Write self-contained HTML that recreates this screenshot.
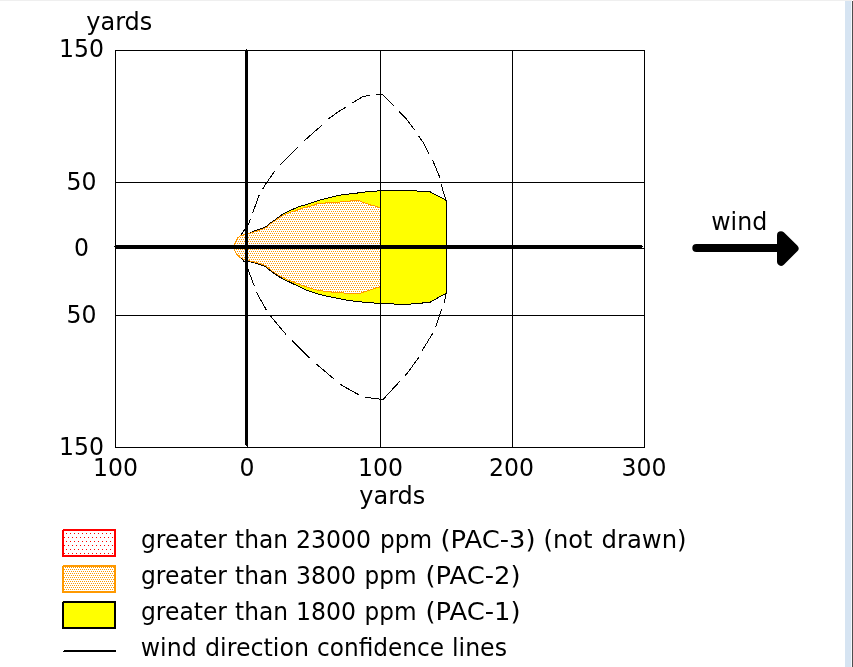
<!DOCTYPE html>
<html><head><meta charset="utf-8"><title>threat zone</title>
<style>
html,body{margin:0;padding:0;background:#fff;overflow:hidden}
svg{display:block}
text{fill:#000}
</style></head><body>
<svg width="853" height="667" viewBox="0 0 853 667">
<defs>
<pattern id="po" patternUnits="userSpaceOnUse" x="0" y="0" width="2" height="4">
<rect x="0" y="0" width="2" height="4" fill="#fff"/>
<rect x="0" y="1" width="1" height="1" fill="#ff9900"/><rect x="1" y="3" width="1" height="1" fill="#ff9900"/>
</pattern>
<pattern id="pr" patternUnits="userSpaceOnUse" x="0" y="0" width="4" height="8">
<rect x="0" y="0" width="4" height="8" fill="#fff"/>
<rect x="2" y="5" width="1" height="1" fill="#ff0000"/><rect x="0" y="1" width="1" height="1" fill="#ff0000"/>
</pattern>
</defs>
<rect x="0" y="0" width="853" height="667" fill="#fff"/>
<g shape-rendering="crispEdges">
<!-- window chrome -->
<rect x="0" y="0" width="852" height="1" fill="#efefef"/>
<rect x="845" y="1" width="6" height="666" fill="#d6e4f2"/><rect x="851" y="1" width="1" height="666" fill="#f4f8fc"/>
<rect x="852" y="1" width="1" height="666" fill="#4e4e4e"/>
<!-- threat zones -->
<polygon points="234.5,247.3 234.6,244.5 237.2,238.2 240.5,235.8 244.7,234.4 248.5,233.5 253.1,231.6 257.8,229.7 262.5,228.3 266.3,226.4 270.0,223.1 275.7,219.4 281.3,215.2 286.0,212.4 292.5,209.5 299.1,206.4 304.4,205.3 313.8,202.0 323.1,199.2 332.5,196.8 341.9,194.9 351.3,193.8 360.7,192.6 366.3,191.9 376.7,191.5 377.7,190.5 416.6,190.5 417.2,191.5 429.5,191.5 446.5,200.5 446.5,293.0 429.5,302.5 423.0,302.5 422.4,303.5 411.3,303.5 410.7,304.5 394.3,304.5 393.7,303.5 379.4,303.3 368.9,302.7 358.3,301.7 347.8,300.4 337.2,298.3 326.7,296.1 316.1,293.5 305.6,289.8 296.3,285.3 286.9,280.8 279.4,277.0 271.9,271.9 266.3,267.2 262.5,265.3 253.1,262.5 248.5,261.1 244.7,259.7 240.5,257.8 236.3,254.0 234.5,250.0" fill="#ffff00" stroke="#000" stroke-width="1"/>
<polygon points="234.5,247.3 234.6,244.5 237.2,238.2 240.5,235.8 244.7,234.4 248.5,233.8 253.1,232.4 257.8,230.6 262.5,229.2 266.3,227.4 270.0,224.1 275.7,220.4 281.3,216.4 286.0,214.0 292.5,211.6 295.0,210.9 304.4,207.6 313.8,205.3 317.5,203.5 332.5,202.5 349.4,201.4 351.3,200.7 359.7,200.7 363.5,202.6 370.0,204.7 375.0,205.9 380.5,208.4 380.5,286.7 368.9,290.3 360.4,293.2 349.9,293.5 337.2,292.5 326.7,291.7 316.1,289.8 305.6,286.7 295.0,282.6 286.9,279.5 279.4,275.8 271.9,270.8 266.3,266.2 262.5,264.4 253.1,261.7 248.5,260.6 244.7,259.7 240.5,257.8 236.3,254.0 234.5,250.0" fill="url(#po)" stroke="#ff9900" stroke-width="1"/>
<!-- grid -->
<g fill="#000">
<rect x="115" y="50" width="530" height="1"/><rect x="115" y="182" width="530" height="1"/>
<rect x="115" y="248" width="530" height="1"/><rect x="115" y="315" width="530" height="1"/>
<rect x="115" y="447" width="530" height="1"/>
<rect x="115" y="50" width="1" height="398"/><rect x="380" y="50" width="1" height="398"/>
<rect x="512" y="50" width="1" height="398"/><rect x="644" y="50" width="1" height="398"/>
<!-- axes -->
<rect x="247" y="50" width="1" height="398"/><rect x="245" y="50" width="3" height="395"/><rect x="246" y="49" width="1" height="1"/><rect x="246" y="445" width="1" height="1"/>
<rect x="115" y="245" width="527" height="3"/><rect x="114" y="246" width="1" height="1"/><rect x="642" y="246" width="1" height="1"/>
</g>
<!-- confidence lines -->
<g fill="none" stroke="#000" stroke-width="1">
<polyline points="240.8,235.3 241.5,234.3 242.2,233.3 242.9,232.2 243.5,231.2 244.2,230.2 244.9,229.2 245.6,228.2 246.3,227.2 247.0,226.1 247.7,225.1 248.4,224.1 248.9,223.1 249.3,222.1 249.6,221.1 250.0,220.0 250.4,219.0 250.5,218.8"/>
<polyline points="252.8,212.7 253.1,211.7 253.5,210.7 253.8,209.7 254.2,208.7 254.6,207.7 254.9,206.7 255.3,205.7 255.6,204.7 256.0,203.7 256.4,202.7 256.7,201.7 257.1,200.7 257.4,199.7 257.8,198.7 258.2,197.7 258.5,196.7 259.0,195.6 259.6,194.6"/>
<polyline points="262.8,188.8 263.4,187.7 264.0,186.7 264.5,185.7 265.2,184.7 265.9,183.7 266.6,182.7 267.3,181.7 268.0,180.7 268.7,179.7 269.4,178.7 270.1,177.7 270.8,176.7 271.5,175.7 272.2,174.7 272.9,173.7 273.6,172.6 274.5,171.6 275.4,170.6"/>
<polyline points="280.5,164.8 281.3,163.8 282.2,162.8 283.2,161.8 284.2,160.8 285.2,159.8 286.2,158.8 287.2,157.8 288.2,156.8 289.2,155.8 290.2,154.8 291.2,153.8 292.2,152.8 293.2,151.8 294.2,150.8 295.2,149.8 296.2,148.8 297.3,147.8 298.3,146.8"/>
<polyline points="304.3,140.8 305.3,139.8 306.4,138.8 307.4,138.0 308.4,137.1 309.4,136.2 310.4,135.3 311.4,134.4 312.4,133.6 313.4,132.7 314.4,131.8 315.4,130.9 316.4,130.0 317.4,129.1 318.4,128.3 319.4,127.4 320.4,126.5 321.4,125.6 322.2,124.9"/>
<polyline points="328.3,119.0 329.4,118.1 330.4,117.4 331.4,116.7 332.4,116.0 333.4,115.3 334.4,114.5 335.4,113.8 336.5,113.1 337.5,112.4 338.5,111.7 339.5,111.0 340.5,110.3 341.5,109.7 342.6,109.2 343.6,108.6 344.6,108.0 345.6,107.4 346.4,107.0"/>
<polyline points="352.4,103.0 353.5,102.3 354.5,101.7 355.5,101.1 356.5,100.5 357.5,99.9 358.6,99.2 359.6,98.6 360.6,98.0 361.6,97.4 362.6,96.8 363.7,96.4 364.7,96.2 365.7,96.0 366.7,95.8 367.7,95.5 368.7,95.3 369.7,95.2 370.2,95.1"/>
<polyline points="376.2,94.7 377.3,94.6 378.3,94.5 379.3,94.4 380.4,94.3 381.4,94.2 381.9,94.2"/>
<polyline points="446.2,200.8 445.9,199.8 445.6,198.8 445.3,197.8 444.9,196.8 444.6,195.8 444.3,194.8 444.0,193.8 443.7,192.7 443.4,191.7 443.0,190.7 442.7,189.7 442.4,188.7 442.1,187.7 441.8,186.7 441.5,185.7 441.2,184.7 441.0,183.7"/>
<polyline points="439.7,177.7 439.5,176.7 439.1,175.7 438.7,174.7 438.2,173.7 437.8,172.7 437.4,171.7 437.0,170.7 436.6,169.7 436.2,168.7 435.7,167.7 435.3,166.7 434.9,165.7 434.5,164.7 434.1,163.7 433.6,162.7 433.2,161.7 432.8,160.7 432.4,159.6"/>
<polyline points="428.9,153.6 428.4,152.6 427.9,151.6 427.4,150.6 426.9,149.6 426.4,148.6 425.9,147.6 425.4,146.6 424.9,145.6 424.4,144.6 423.9,143.6 423.3,142.5 422.5,141.5 421.8,140.5 421.1,139.5 420.4,138.5 419.6,137.5 418.9,136.5 418.4,135.7"/>
<polyline points="414.3,129.7 413.6,128.7 412.9,127.7 412.1,126.7 411.4,125.7 410.7,124.7 409.9,123.7 409.2,122.7 408.5,121.7 407.7,120.7 406.9,119.6 405.9,118.6 404.9,117.6 403.9,116.6 402.9,115.6 401.9,114.6 400.9,113.6 399.9,112.6 399.0,111.6"/>
<polyline points="393.8,105.6 392.8,104.6 391.8,103.6 390.8,102.6 389.8,101.7 388.8,100.7 387.8,99.8 386.7,98.8 385.7,97.8 384.7,96.9 383.7,95.9 382.7,94.9 381.9,94.2"/>
<polyline points="383.0,399.5 382.0,399.4 381.0,399.2 380.0,399.1 379.0,399.0 378.0,398.9 377.0,398.7 376.0,398.6 375.0,398.5 374.0,398.4 373.0,398.2 372.0,398.1 371.0,398.0 370.0,397.9 369.0,397.7 368.0,397.6 367.0,397.5 365.9,397.3 364.9,397.0 364.7,396.9"/>
<polyline points="358.6,394.7 357.6,394.1 356.6,393.6 355.6,393.0 354.6,392.4 353.6,391.9 352.6,391.3 351.6,390.8 350.6,390.2 349.6,389.6 348.6,389.1 347.6,388.5 346.6,388.0 345.6,387.4 344.6,386.8 343.6,386.3 342.6,385.7 341.6,385.1 340.6,384.3 340.3,384.1"/>
<polyline points="334.3,379.3 333.3,378.4 332.3,377.6 331.3,376.7 330.3,375.9 329.3,375.0 328.3,374.2 327.3,373.3 326.3,372.5 325.3,371.6 324.3,370.8 323.3,369.9 322.3,369.1 321.3,368.2 320.3,367.4 319.3,366.5 318.2,365.7 317.2,364.8 316.2,363.9"/>
<polyline points="310.1,358.3 309.1,357.4 308.1,356.4 307.1,355.4 306.1,354.4 305.1,353.5 304.1,352.5 303.1,351.5 302.0,350.5 301.0,349.5 300.0,348.6 299.0,347.6 298.0,346.6 297.0,345.6 296.0,344.7 295.0,343.7 294.0,342.7 293.0,341.7 292.0,340.7"/>
<polyline points="286.1,334.5 285.3,333.5 284.4,332.5 283.6,331.5 282.7,330.5 281.8,329.5 281.0,328.5 280.1,327.5 279.3,326.5 278.4,325.5 277.6,324.5 276.7,323.5 275.9,322.5 275.0,321.5 274.2,320.5 273.3,319.5 272.5,318.5 271.7,317.5 270.9,316.5 270.7,316.2"/>
<polyline points="266.4,310.2 265.9,309.2 265.3,308.2 264.8,307.2 264.2,306.2 263.6,305.2 263.1,304.2 262.5,303.2 262.0,302.2 261.4,301.2 260.8,300.2 260.3,299.2 259.7,298.2 259.2,297.2 258.6,296.2 258.0,295.2 257.6,294.2 257.2,293.2 256.8,292.2 256.7,291.9"/>
<polyline points="254.3,286.1 254.0,285.1 253.6,284.1 253.2,283.1 252.8,282.1 252.4,281.1 252.0,280.1 251.7,279.0 251.3,278.0 250.9,277.0 250.5,276.0 250.1,275.0 249.7,274.0 249.4,273.0 249.0,272.0 248.6,271.0 248.2,270.0 247.8,269.0 247.3,268.0 247.2,267.8"/>
<polyline points="244.2,261.8 243.4,260.8 242.6,259.8 241.8,258.8 241.2,258.0"/>
<polyline points="383.0,399.5 383.9,398.5 384.9,397.5 385.8,396.5 386.7,395.5 387.7,394.5 388.6,393.5 389.5,392.5 390.5,391.5 391.4,390.4 392.3,389.4 393.3,388.4 394.2,387.4 395.1,386.4 396.1,385.4 397.0,384.4 397.9,383.4 398.9,382.4 399.8,381.4"/>
<polyline points="405.2,375.4 406.1,374.4 407.0,373.4 407.9,372.4 408.6,371.4 409.3,370.4 410.0,369.4 410.8,368.4 411.5,367.4 412.2,366.4 412.9,365.4 413.7,364.4 414.4,363.4 415.1,362.4 415.8,361.4 416.6,360.4 417.3,359.4 418.0,358.4 418.7,357.4"/>
<polyline points="422.0,351.3 422.5,350.2 423.0,349.2 423.6,348.2 424.2,347.2 424.8,346.2 425.5,345.2 426.1,344.2 426.7,343.2 427.3,342.2 427.9,341.2 428.5,340.2 429.1,339.2 429.8,338.2 430.4,337.2 431.0,336.2 431.6,335.2 432.2,334.2 432.7,333.4"/>
<polyline points="435.4,327.3 435.8,326.3 436.2,325.2 436.5,324.2 436.8,323.2 437.2,322.2 437.5,321.2 437.9,320.2 438.2,319.2 438.6,318.2 438.9,317.2 439.2,316.2 439.6,315.2 439.9,314.1 440.3,313.1 440.6,312.1 440.9,311.1 441.3,310.1 441.5,309.4"/>
<polyline points="443.7,303.5 444.1,302.5 444.5,301.5 444.7,300.4 444.9,299.4 445.1,298.4 445.3,297.4 445.4,296.4 445.6,295.4 445.8,294.4 446.0,293.4 446.0,293.2"/>
</g>
<!-- legend swatches -->
<rect x="63" y="530" width="52" height="26" fill="url(#pr)" stroke="#ff0000" stroke-width="2"/>
<rect x="63" y="566" width="52" height="26" fill="url(#po)" stroke="#ff9900" stroke-width="2"/>
<rect x="63" y="602" width="52" height="26" fill="#ffff00" stroke="#000" stroke-width="2"/>
<rect x="64" y="650" width="52" height="1" fill="#000"/><rect x="63" y="651" width="53" height="1" fill="#000"/>
<rect x="62" y="529" width="1" height="1" fill="#fff"/><rect x="62" y="565" width="1" height="1" fill="#fff"/><rect x="62" y="601" width="1" height="1" fill="#ffffa0"/>
</g>
<!-- wind arrow -->
<line x1="696.3" y1="248" x2="781" y2="248" stroke="#000" stroke-width="8" stroke-linecap="round"/>
<polygon points="781,235.2 794.5,248.4 781,261.8" fill="#000" stroke="#000" stroke-width="8" stroke-linejoin="round"/>
<g font-family="DejaVu Sans, Verdana, Liberation Sans, sans-serif" font-size="24">
<text x="86.3" y="30" textLength="66" lengthAdjust="spacingAndGlyphs">yards</text>
<text x="359.3" y="504" textLength="66" lengthAdjust="spacingAndGlyphs">yards</text>
<text x="711.2" y="230" textLength="56" lengthAdjust="spacingAndGlyphs">wind</text>
<text x="59.0" y="57" textLength="45" lengthAdjust="spacingAndGlyphs">150</text>
<text x="66.5" y="190" textLength="30" lengthAdjust="spacingAndGlyphs">50</text>
<text x="74.0" y="256" textLength="15" lengthAdjust="spacingAndGlyphs">0</text>
<text x="66.5" y="323" textLength="30" lengthAdjust="spacingAndGlyphs">50</text>
<text x="59.0" y="455" textLength="45" lengthAdjust="spacingAndGlyphs">150</text>
<text x="93.0" y="476" textLength="45" lengthAdjust="spacingAndGlyphs">100</text>
<text x="239.5" y="476" textLength="15" lengthAdjust="spacingAndGlyphs">0</text>
<text x="358.0" y="476" textLength="45" lengthAdjust="spacingAndGlyphs">100</text>
<text x="489.0" y="476" textLength="45" lengthAdjust="spacingAndGlyphs">200</text>
<text x="621.5" y="476" textLength="45" lengthAdjust="spacingAndGlyphs">300</text>
<text x="141" y="548" textLength="86" lengthAdjust="spacingAndGlyphs">greater</text>
<text x="235" y="548" textLength="53" lengthAdjust="spacingAndGlyphs">than</text>
<text x="296" y="548" textLength="75" lengthAdjust="spacingAndGlyphs">23000</text>
<text x="380" y="548" textLength="52" lengthAdjust="spacingAndGlyphs">ppm</text>
<text x="440.5" y="548" textLength="95" lengthAdjust="spacingAndGlyphs">(PAC-3)</text>
<text x="543.5" y="548" textLength="49" lengthAdjust="spacingAndGlyphs">(not</text>
<text x="601.5" y="548" textLength="85" lengthAdjust="spacingAndGlyphs">drawn)</text>
<text x="141" y="584" textLength="86" lengthAdjust="spacingAndGlyphs">greater</text>
<text x="235" y="584" textLength="53" lengthAdjust="spacingAndGlyphs">than</text>
<text x="296" y="584" textLength="60" lengthAdjust="spacingAndGlyphs">3800</text>
<text x="364.5" y="584" textLength="52" lengthAdjust="spacingAndGlyphs">ppm</text>
<text x="425.5" y="584" textLength="95" lengthAdjust="spacingAndGlyphs">(PAC-2)</text>
<text x="141" y="620" textLength="86" lengthAdjust="spacingAndGlyphs">greater</text>
<text x="235" y="620" textLength="53" lengthAdjust="spacingAndGlyphs">than</text>
<text x="296" y="620" textLength="60" lengthAdjust="spacingAndGlyphs">1800</text>
<text x="364.5" y="620" textLength="52" lengthAdjust="spacingAndGlyphs">ppm</text>
<text x="425.5" y="620" textLength="95" lengthAdjust="spacingAndGlyphs">(PAC-1)</text>
<text x="140.7" y="656" textLength="56" lengthAdjust="spacingAndGlyphs">wind</text>
<text x="205" y="656" textLength="104" lengthAdjust="spacingAndGlyphs">direction</text>
<text x="317" y="656" textLength="127" lengthAdjust="spacingAndGlyphs">confidence</text>
<text x="452" y="656" textLength="55" lengthAdjust="spacingAndGlyphs">lines</text>
</g>
</svg>
</body></html>
